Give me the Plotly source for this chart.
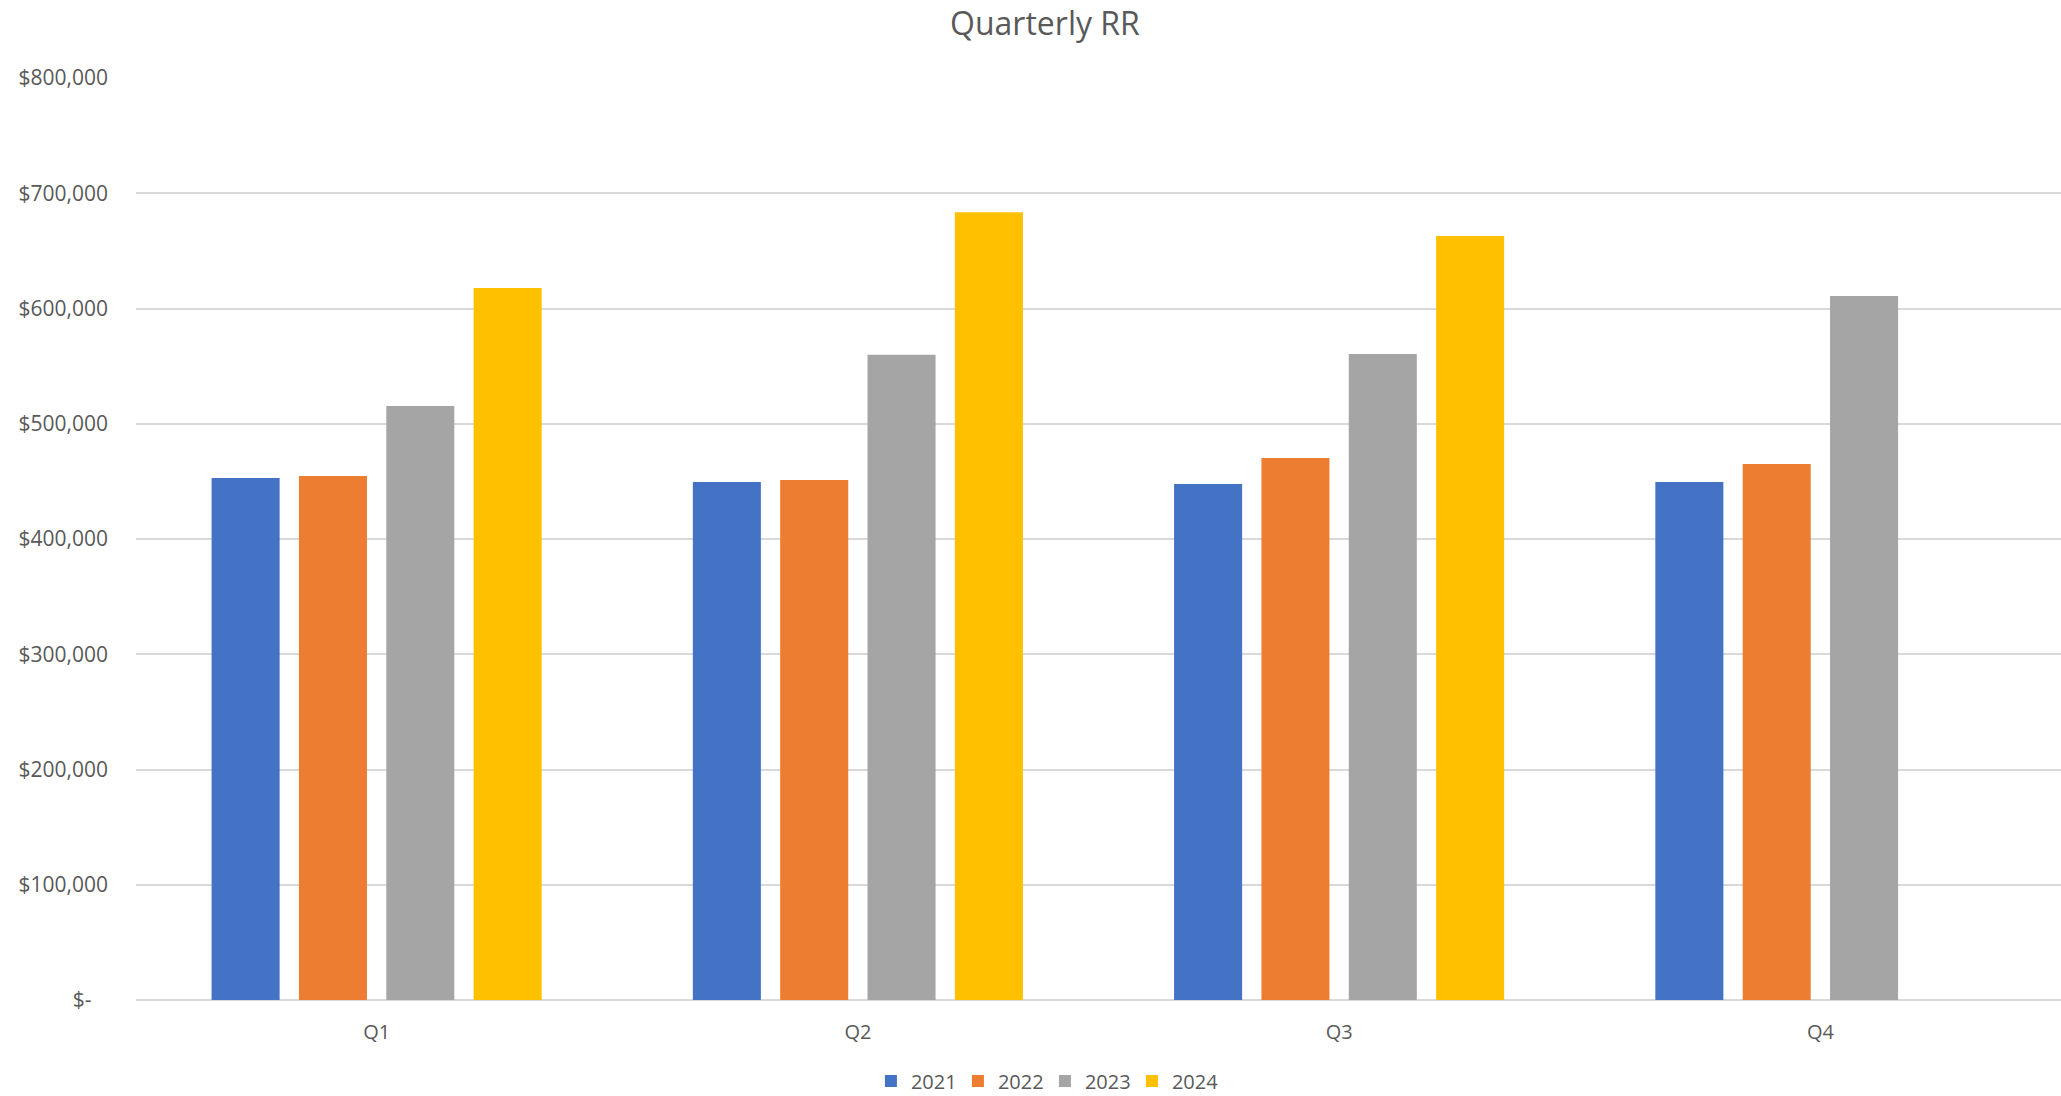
import plotly.graph_objects as go

quarters = ["Q1", "Q2", "Q3", "Q4"]
years = ["2021", "2022", "2023", "2024"]
values_2021 = [453000, 449500, 447800, 449500]
values_2022 = [454700, 451200, 470300, 465100]
values_2023 = [515400, 559900, 560500, 610800]
values_2024 = [617700, 683600, 662800, None]
colors = ["#4472C4", "#ED7D31", "#A5A5A5", "#FFC000"]

y_tickvals = [0, 100000, 200000, 300000, 400000, 500000, 600000, 700000, 800000]
y_ticktext = ["$-\u00a0\u00a0\u00a0", "$100,000", "$200,000", "$300,000", "$400,000",
              "$500,000", "$600,000", "$700,000", "$800,000"]

series = [values_2021, values_2022, values_2023, values_2024]

FONT = "Open Sans"
TXT = "#595959"

fig = go.Figure()
for name, vals, col in zip(years, series, colors):
    fig.add_trace(go.Bar(x=quarters, y=vals, name=name, marker=dict(color=col, line=dict(width=0))))

fig.update_layout(
    width=2061, height=1096,
    paper_bgcolor="white", plot_bgcolor="white",
    margin=dict(l=136, r=0, t=78, b=96),
    barmode="group", bargap=0.274, bargroupgap=0.221,
    title=dict(text="Quarterly RR", x=0.507, xanchor="center", xref="container",
               y=1 - 24 / 1096, yanchor="middle", yref="container",
               font=dict(family=FONT, size=32, color=TXT)),
    font=dict(family=FONT, color=TXT),
    legend=dict(orientation="h", x=0.507, xanchor="center", xref="container",
                y=1 - 1081 / 1096, yanchor="middle", yref="container",
                font=dict(family=FONT, size=20, color=TXT), itemwidth=30,
                entrywidth=42, entrywidthmode="pixels",
                traceorder="normal"),
    showlegend=True,
)
fig.update_yaxes(range=[0, 800000], tickvals=y_tickvals, ticktext=y_ticktext,
                 showgrid=True, gridcolor="#D9D9D9", gridwidth=1.5,
                 zeroline=True, zerolinecolor="#D9D9D9", zerolinewidth=1.5,
                 showline=False, ticks="", ticklabelstandoff=27,
                 tickfont=dict(family=FONT, size=21, color=TXT), fixedrange=True)
fig.update_xaxes(showline=False, showgrid=False, ticks="", ticklabelstandoff=18,
                 tickfont=dict(family=FONT, size=20, color=TXT))

fig.write_html("out.html")
